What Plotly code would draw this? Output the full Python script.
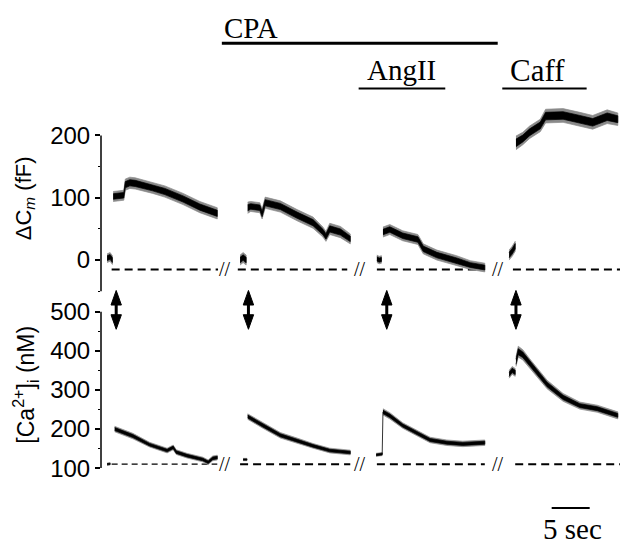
import plotly.graph_objects as go

# ---------------- data ----------------
# time in s (concatenated display time), value, noise half-width
# Top panel: delta Cm (fF)
cm1_pre_t = [0.8, 1.2, 1.5]
cm1_pre = [3, 5, 0]
cm1_pre_hw = [7, 7, 7]
cm1_t = [1.6, 3.0, 3.2, 3.8, 4.5, 6.8, 8.4, 10.8, 13.0, 15.3]
cm1 = [102, 104, 121, 124, 123, 116, 110, 98, 85, 75]
cm1_hw = [8, 8, 9, 9, 9, 9, 9, 9, 9, 9]

cm2_pre_t = [18.3, 18.7, 19.1]
cm2_pre = [0, 4, 0]
cm2_pre_hw = [8, 8, 8]
cm2_t = [19.3, 19.7, 20.9, 21.2, 21.6, 23.6, 25.8, 27.9, 29.2, 29.6, 30.1, 31.5, 32.8]
cm2 = [84, 86, 84, 74, 92, 86, 72, 60, 45, 38, 50, 45, 34]
cm2_hw = [9, 8, 8, 8, 9, 9, 9, 9, 8, 8, 9, 9, 8]

cm3_pre_t = [36.3, 36.6, 36.9]
cm3_pre = [2, 0, 1]
cm3_pre_hw = [6, 6, 6]
cm3_t = [37.1, 38.0, 39.7, 41.7, 42.4, 44.2, 46.8, 48.6, 50.5]
cm3 = [45, 49, 39, 33, 18, 8, -1, -8, -12]
cm3_hw = [8, 8, 8, 8, 8, 8, 8, 7, 7]

cm4_pre_t = [53.7, 54.1, 54.5]
cm4_pre = [8, 14, 22]
cm4_pre_hw = [8, 8, 8]
cm4_t = [54.6, 55.5, 56.4, 57.8, 58.5, 60.8, 63.0, 64.7, 66.6, 68.0]
cm4 = [188, 195, 205, 216, 231, 232, 226, 221, 230, 226]
cm4_hw = [11, 10, 10, 10, 11, 11, 11, 11, 11, 10]

# Bottom panel: [Ca2+]i (nM)
ca1_pre_t = [0.8, 1.2]
ca1_pre = [110, 111]
ca1_pre_hw = [3, 3]
ca1_t = [1.8, 4.2, 6.4, 8.7, 9.5, 9.9, 11.3, 13.4, 14.1, 14.7, 15.3]
ca1 = [200, 182, 160, 145, 153, 141, 132, 122, 115, 125, 127]
ca1_hw = [7, 7, 6, 6, 6, 6, 6, 6, 6, 6, 6]

ca2_pre_t = [18.7, 19.2]
ca2_pre = [122, 122]
ca2_pre_hw = [3, 3]
ca2_t = [19.3, 21.3, 23.6, 25.8, 27.9, 30.1, 32.8]
ca2 = [232, 209, 184, 170, 157, 145, 140]
ca2_hw = [7, 7, 7, 7, 6, 6, 6]

ca3_pre_t = [36.2, 37.0]
ca3_pre = [134, 136]
ca3_pre_hw = [4, 4]
ca3_t = [37.1, 38.0, 39.7, 41.6, 43.3, 45.5, 47.6, 50.5]
ca3 = [244, 234, 209, 189, 172, 165, 162, 165]
ca3_hw = [8, 8, 7, 7, 7, 7, 7, 7]

ca4_pre_t = [53.7, 54.1, 54.5]
ca4_pre = [340, 350, 345]
ca4_pre_hw = [10, 10, 10]
ca4_t = [54.6, 54.9, 55.5, 56.4, 58.7, 60.8, 63.0, 65.3, 68.0]
ca4 = [372, 398, 390, 368, 314, 281, 260, 252, 235]
ca4_hw = [12, 14, 13, 12, 11, 10, 9, 9, 9]

cm_baseline = -15
ca_baseline = 110
top_base_spans = [(1.4, 15.4), (18.0, 32.4), (36.3, 50.5), (54.2, 68.3)]
bot_base_spans = [(1.4, 15.3), (18.3, 32.8), (36.3, 50.5), (54.5, 68.3)]
break_t = [16.3, 34.1, 52.2]
flash_t = [2.0, 19.4, 37.6, 54.6]

cpa_span = (15.9, 52.2)
angii_span = (33.9, 45.3)
caff_span = (52.8, 63.9)
scale_start = 59.3
scale_len = 5

cm_ticks = [0, 100, 200]
cm_minor = [-50, 50, 150]
ca_ticks = [100, 200, 300, 400, 500]
ca_minor = [150, 250, 350, 450]

# ---------------- geometry ----------------
FIG_W, FIG_H = 625, 549
M_L, M_R = 101, 5
PX_PER_S = 7.6
PLOT_W = FIG_W - M_L - M_R
X_RANGE = [0, PLOT_W / PX_PER_S]


def py(p):
    return 1 - p / FIG_H


def px(p):
    return (p - M_L) / PLOT_W


CM_RANGE = [-55, 262]
CM_DOMAIN = [py(261.7 + 55 * 0.642), py(261.7 - 262 * 0.642)]
CA_RANGE = [92, 520]
CA_DOMAIN = [py(476 + 8 * 0.4025), py(476 - 420 * 0.4025)]

SANS = "Liberation Sans, Arial, sans-serif"
SERIF = "Liberation Serif, Times New Roman, serif"

fig = go.Figure()


def add_band(t, c, hw, yaxis):
    for color, k in (("#8a8a8a", 1.0), ("#000000", 0.55)):
        up = [v + k * h for v, h in zip(c, hw)]
        lo = [v - k * h for v, h in zip(c, hw)]
        fig.add_trace(go.Scatter(
            x=list(t) + list(t)[::-1], y=up + lo[::-1], fill="toself",
            fillcolor=color, mode="lines", line=dict(color=color, width=0.7),
            yaxis=yaxis, hoverinfo="skip", showlegend=False))


# dashed baselines
for i, (a, b) in enumerate(top_base_spans):
    fig.add_trace(go.Scatter(x=[a, b], y=[cm_baseline, cm_baseline], mode="lines",
                             line=dict(color="black", width=2, dash="8px,5px"),
                             yaxis="y", hoverinfo="skip", showlegend=False))
for i, (a, b) in enumerate(bot_base_spans):
    thin = i == 0
    fig.add_trace(go.Scatter(x=[a, b], y=[ca_baseline, ca_baseline], mode="lines",
                             line=dict(color="black", width=1.3 if thin else 2,
                                       dash="6px,4px" if thin else "8px,5px"),
                             yaxis="y2", hoverinfo="skip", showlegend=False))

cm_sets = [(cm1_pre_t, cm1_pre, cm1_pre_hw, cm1_t, cm1, cm1_hw),
           (cm2_pre_t, cm2_pre, cm2_pre_hw, cm2_t, cm2, cm2_hw),
           (cm3_pre_t, cm3_pre, cm3_pre_hw, cm3_t, cm3, cm3_hw),
           (cm4_pre_t, cm4_pre, cm4_pre_hw, cm4_t, cm4, cm4_hw)]
ca_sets = [(ca1_pre_t, ca1_pre, ca1_pre_hw, ca1_t, ca1, ca1_hw),
           (ca2_pre_t, ca2_pre, ca2_pre_hw, ca2_t, ca2, ca2_hw),
           (ca3_pre_t, ca3_pre, ca3_pre_hw, ca3_t, ca3, ca3_hw),
           (ca4_pre_t, ca4_pre, ca4_pre_hw, ca4_t, ca4, ca4_hw)]

for s in cm_sets:
    add_band(s[0], s[1], s[2], "y")
    add_band(s[3], s[4], s[5], "y")
for j, s in enumerate(ca_sets):
    add_band(s[0], s[1], s[2], "y2")
    add_band(s[3], s[4], s[5], "y2")
    if j == 2:
        # thin rising edge joining resting level and AngII response
        fig.add_trace(go.Scatter(x=[s[0][-1], s[3][0]], y=[s[1][-1], s[4][0]],
                                 mode="lines", line=dict(color="black", width=0.8),
                                 yaxis="y2", hoverinfo="skip", showlegend=False))

shapes = []
# partial y-axis lines
shapes.append(dict(type="line", xref="paper", yref="y", x0=0, x1=0,
                   y0=cm_minor[0], y1=cm_ticks[-1], line=dict(color="black", width=1.5)))
shapes.append(dict(type="line", xref="paper", yref="y2", x0=0, x1=0,
                   y0=ca_ticks[0], y1=ca_ticks[-1], line=dict(color="black", width=1.5)))
# drug bars
shapes.append(dict(type="line", xref="x", yref="paper", x0=cpa_span[0], x1=cpa_span[1],
                   y0=py(38.3), y1=py(38.3), line=dict(color="black", width=3)))
for sp in (angii_span, caff_span):
    shapes.append(dict(type="line", xref="x", yref="paper", x0=sp[0], x1=sp[1],
                       y0=py(85), y1=py(85), line=dict(color="black", width=2)))
# time scale bar
shapes.append(dict(type="line", xref="x", yref="paper", x0=scale_start,
                   x1=scale_start + scale_len, y0=py(517), y1=py(517),
                   line=dict(color="black", width=2)))
# double-headed flash arrows (shaft + two filled heads)
HW_S = 5.2 / PX_PER_S  # head half-width in s
for ft in flash_t:
    shapes.append(dict(type="line", xref="x", yref="paper", x0=ft, x1=ft,
                       y0=py(306), y1=py(320), line=dict(color="black", width=3)))
    shapes.append(dict(type="path", xref="x", yref="paper",
                       path=f"M {ft - HW_S},{py(308)} L {ft},{py(293)} L {ft + HW_S},{py(308)} Z",
                       fillcolor="black", line=dict(color="black", width=1)))
    shapes.append(dict(type="path", xref="x", yref="paper",
                       path=f"M {ft - HW_S},{py(318)} L {ft},{py(333)} L {ft + HW_S},{py(318)} Z",
                       fillcolor="black", line=dict(color="black", width=1)))

ann = []
ann.append(dict(text="ΔC<sub><i>m</i></sub> (fF)", xref="paper", yref="paper",
                x=px(25), y=py(198), textangle=-90, showarrow=False,
                xanchor="center", yanchor="middle",
                font=dict(family=SANS, size=22, color="black")))
ann.append(dict(text="[Ca<sup>2+</sup>]<sub>i</sub> (nM)", xref="paper", yref="paper",
                x=px(25), y=py(390), textangle=-90, showarrow=False,
                xanchor="center", yanchor="middle",
                font=dict(family=SANS, size=23, color="black")))
ann.append(dict(text="CPA", xref="x", yref="paper", x=cpa_span[0], y=py(23),
                xanchor="left", yanchor="middle", showarrow=False,
                font=dict(family=SERIF, size=29, color="black")))
ann.append(dict(text="AngII", xref="x", yref="paper", x=(angii_span[0] + angii_span[1]) / 2,
                y=py(66), xanchor="center", yanchor="middle", showarrow=False,
                font=dict(family=SERIF, size=29, color="black")))
ann.append(dict(text="Caff", xref="x", yref="paper", x=(caff_span[0] + caff_span[1]) / 2 - 0.9,
                y=py(66), xanchor="center", yanchor="middle", showarrow=False,
                font=dict(family=SERIF, size=31, color="black")))
ann.append(dict(text="5 sec", xref="x", yref="paper", x=scale_start + scale_len / 2 + 0.2,
                y=py(539), xanchor="center", yanchor="middle", showarrow=False,
                font=dict(family=SERIF, size=29, color="black")))
for bt in break_t:
    ann.append(dict(text="//", xref="x", yref="y", x=bt, y=cm_baseline,
                    showarrow=False, xanchor="center", yanchor="middle",
                    font=dict(family=SERIF, size=20, color="black")))
    ann.append(dict(text="//", xref="x", yref="y2", x=bt, y=ca_baseline,
                    showarrow=False, xanchor="center", yanchor="middle",
                    font=dict(family=SERIF, size=20, color="black")))

tickfont = dict(family=SANS, size=24, color="black")
fig.update_layout(
    width=FIG_W, height=FIG_H,
    margin=dict(l=M_L, r=M_R, t=0, b=0, pad=0),
    paper_bgcolor="white", plot_bgcolor="white",
    showlegend=False,
    xaxis=dict(range=X_RANGE, visible=False, fixedrange=True),
    yaxis=dict(domain=CM_DOMAIN, range=CM_RANGE, tickvals=cm_ticks,
               ticks="outside", ticklen=5, tickwidth=1.5, tickcolor="black",
               showline=False, showgrid=False, zeroline=False, anchor="x",
               tickfont=tickfont,
               minor=dict(tickvals=cm_minor, ticks="outside", ticklen=2.5,
                          tickwidth=1, tickcolor="black", showgrid=False)),
    yaxis2=dict(domain=CA_DOMAIN, range=CA_RANGE, tickvals=ca_ticks,
                ticks="outside", ticklen=5, tickwidth=1.5, tickcolor="black",
                showline=False, showgrid=False, zeroline=False, anchor="x",
                tickfont=tickfont,
                minor=dict(tickvals=ca_minor, ticks="outside", ticklen=2.5,
                           tickwidth=1, tickcolor="black", showgrid=False)),
    shapes=shapes,
    annotations=ann,
)

fig.write_html("out.html", config={"displayModeBar": False},
               post_script="document.body.style.margin='0';")
